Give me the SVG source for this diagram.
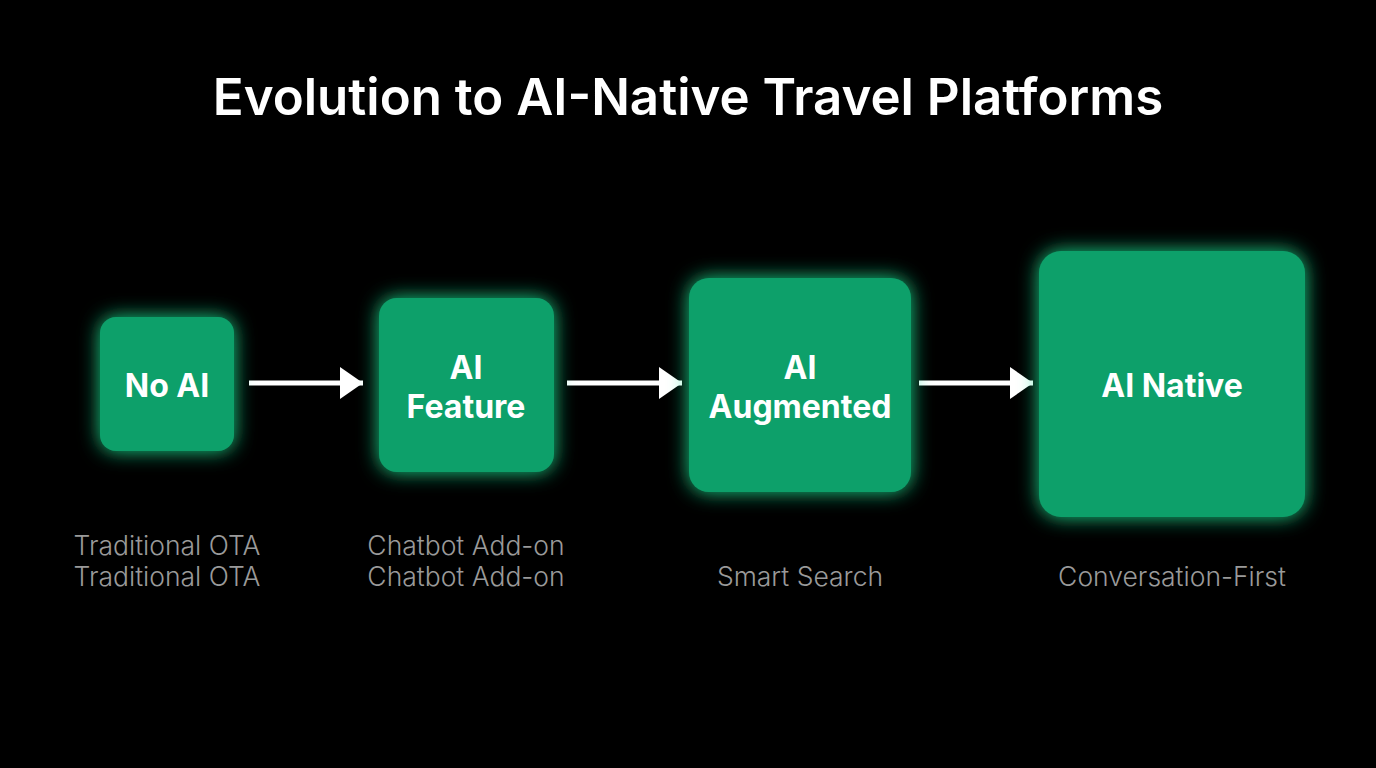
<svg xmlns="http://www.w3.org/2000/svg" width="1376" height="768" viewBox="0 0 1376 768">
<defs>
<filter id="glow" x="-40%" y="-40%" width="180%" height="180%">
<feGaussianBlur in="SourceAlpha" stdDeviation="10" result="b"/>
<feFlood flood-color="#1ee896" flood-opacity="0.9"/>
<feComposite in2="b" operator="in" result="g"/>
<feMerge><feMergeNode in="g"/><feMergeNode in="SourceGraphic"/></feMerge>
</filter>
<marker id="ah" markerWidth="24" markerHeight="32" refX="23" refY="16" markerUnits="userSpaceOnUse" orient="auto">
<path d="M0,0 L23,16 L0,32 Z" fill="#ffffff"/>
</marker>
<style>
.box{fill:#08a06b;filter:url(#glow)}
.lbl{font-family:Inter,"Liberation Sans",sans-serif;font-weight:700;font-size:32px;fill:#ffffff;text-anchor:middle}
.sub{font-family:Inter,"Liberation Sans",sans-serif;font-weight:300;font-size:26.5px;fill:#9a9a9a;text-anchor:middle}
.title{font-family:Inter,"Liberation Sans",sans-serif;font-weight:600;font-size:51px;fill:#ffffff;text-anchor:middle}
.conn{stroke:#ffffff;stroke-width:5;fill:none}
</style>
</defs>
<rect width="1376" height="768" fill="#000000"/>
<text class="title" x="688" y="115">Evolution to AI-Native Travel Platforms</text>
<g id="connectors">
<line class="conn" x1="249" y1="383" x2="363" y2="383" marker-end="url(#ah)"/>
<line class="conn" x1="567" y1="383" x2="682" y2="383" marker-end="url(#ah)"/>
<line class="conn" x1="919" y1="383" x2="1033" y2="383" marker-end="url(#ah)"/>
</g>
<g id="node-no-ai">
<rect class="box" x="100" y="317" width="134" height="134" rx="16"/>
<text class="lbl" x="167" y="397">No AI</text>
<text class="sub" x="167" y="555">Traditional OTA</text>
<text class="sub" x="167" y="586">Traditional OTA</text>
</g>
<g id="node-ai-feature">
<rect class="box" x="379" y="298" width="175" height="174" rx="18"/>
<text class="lbl" x="466" y="379">AI</text>
<text class="lbl" x="466" y="418">Feature</text>
<text class="sub" x="466" y="555">Chatbot Add-on</text>
<text class="sub" x="466" y="586">Chatbot Add-on</text>
</g>
<g id="node-ai-augmented">
<rect class="box" x="689" y="278" width="222" height="214" rx="20"/>
<text class="lbl" x="800" y="379">AI</text>
<text class="lbl" x="800" y="418">Augmented</text>
<text class="sub" x="800" y="586">Smart Search</text>
</g>
<g id="node-ai-native">
<rect class="box" x="1039" y="251" width="266" height="266" rx="22"/>
<text class="lbl" x="1172" y="397">AI Native</text>
<text class="sub" x="1172" y="586">Conversation-First</text>
</g>
</svg>
